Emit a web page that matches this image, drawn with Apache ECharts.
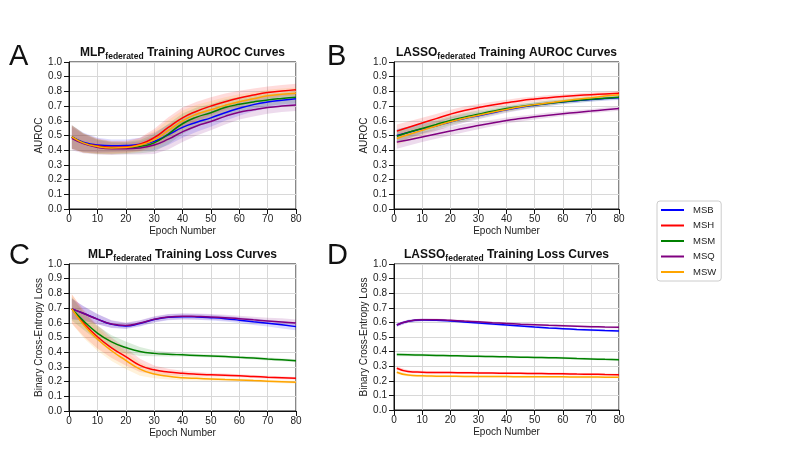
<!DOCTYPE html>
<html>
<head>
<meta charset="utf-8">
<script src="https://cdn.jsdelivr.net/npm/echarts@6/dist/echarts.min.js"></script>
<style>html,body{margin:0;padding:0;background:#fff}#c{width:800px;height:450px}</style>
</head>
<body>
<div id="c"></div>
<script>
// ---- Data ----
const EPOCHS = [1,5,10,15,20,25,30,35,40,45,50,55,60,65,70,75,80];
const NAMES = ['MSB','MSH','MSM','MSQ','MSW'];
const COLORS = ['#0000ff','#ff0000','#008000','#800080','#ffa500'];
const X_TICKS = [0,10,20,30,40,50,60,70,80];
const Y_TICKS = [0,0.1,0.2,0.3,0.4,0.5,0.6,0.7,0.8,0.9,1.0];

// Panel A: MLP federated training AUROC
const A_MSB = [0.49,0.455,0.435,0.43,0.432,0.44,0.46,0.505,0.555,0.59,0.62,0.655,0.685,0.71,0.728,0.74,0.75];
const A_MSH = [0.49,0.45,0.43,0.42,0.422,0.44,0.485,0.555,0.62,0.665,0.70,0.73,0.755,0.775,0.792,0.803,0.812];
const A_MSM = [0.49,0.45,0.425,0.415,0.415,0.425,0.45,0.51,0.58,0.625,0.655,0.69,0.712,0.728,0.742,0.752,0.76];
const A_MSQ = [0.48,0.445,0.42,0.41,0.41,0.415,0.435,0.475,0.525,0.565,0.595,0.63,0.658,0.675,0.69,0.70,0.707];
const A_MSW = [0.49,0.45,0.425,0.415,0.418,0.435,0.47,0.535,0.60,0.645,0.675,0.705,0.73,0.75,0.77,0.78,0.787];
const A_SD  = [0.08,0.065,0.05,0.042,0.04,0.045,0.06,0.07,0.07,0.065,0.06,0.055,0.05,0.045,0.042,0.04,0.04];

// Panel B: LASSO federated training AUROC
const B_MSB = [0.50,0.52,0.545,0.565,0.592,0.615,0.635,0.655,0.675,0.692,0.706,0.718,0.728,0.737,0.745,0.751,0.757];
const B_MSH = [0.53,0.555,0.585,0.615,0.645,0.67,0.69,0.708,0.723,0.737,0.748,0.757,0.765,0.772,0.778,0.783,0.787];
const B_MSM = [0.495,0.52,0.548,0.575,0.602,0.625,0.645,0.665,0.683,0.697,0.709,0.72,0.73,0.739,0.747,0.754,0.76];
const B_MSQ = [0.455,0.47,0.49,0.51,0.53,0.55,0.568,0.585,0.602,0.615,0.627,0.638,0.648,0.657,0.666,0.675,0.683];
const B_MSW = [0.48,0.505,0.535,0.565,0.593,0.617,0.638,0.658,0.677,0.695,0.71,0.722,0.735,0.746,0.757,0.768,0.778];
const B_SD  = [0.045,0.04,0.035,0.032,0.03,0.028,0.025,0.022,0.02,0.02,0.018,0.018,0.016,0.016,0.015,0.015,0.015];

// Panel C: MLP federated training loss
const C_MSB = [0.695,0.665,0.625,0.59,0.578,0.595,0.622,0.638,0.642,0.64,0.635,0.628,0.618,0.607,0.597,0.586,0.574];
const C_MSH = [0.695,0.60,0.505,0.43,0.37,0.31,0.28,0.265,0.256,0.25,0.246,0.243,0.24,0.235,0.23,0.226,0.222];
const C_MSM = [0.695,0.615,0.53,0.47,0.432,0.405,0.392,0.386,0.382,0.378,0.374,0.37,0.365,0.36,0.354,0.348,0.342];
const C_MSQ = [0.695,0.665,0.625,0.592,0.582,0.598,0.624,0.64,0.645,0.643,0.64,0.635,0.628,0.62,0.613,0.606,0.598];
const C_MSW = [0.695,0.59,0.49,0.41,0.345,0.285,0.252,0.236,0.227,0.222,0.218,0.214,0.211,0.207,0.203,0.199,0.195];
const C_SD_BQ = [0.07,0.05,0.035,0.025,0.02,0.02,0.02,0.02,0.02,0.02,0.02,0.02,0.02,0.022,0.022,0.025,0.025];
const C_SD_M  = [0.08,0.06,0.05,0.045,0.04,0.03,0.02,0.015,0.012,0.01,0.01,0.01,0.01,0.01,0.01,0.01,0.01];
const C_SD_HW = [0.10,0.09,0.08,0.07,0.06,0.045,0.03,0.022,0.018,0.015,0.012,0.012,0.01,0.01,0.01,0.01,0.01];

// Panel D: LASSO federated training loss
const D_MSB = [0.582,0.608,0.617,0.615,0.61,0.603,0.596,0.589,0.582,0.575,0.568,0.562,0.557,0.552,0.548,0.544,0.541];
const D_MSH = [0.286,0.264,0.259,0.257,0.256,0.255,0.254,0.253,0.252,0.251,0.25,0.249,0.248,0.246,0.245,0.243,0.241];
const D_MSM = [0.38,0.378,0.376,0.374,0.372,0.37,0.368,0.366,0.364,0.362,0.36,0.358,0.356,0.353,0.35,0.347,0.345];
const D_MSQ = [0.582,0.608,0.618,0.618,0.614,0.609,0.604,0.598,0.593,0.588,0.584,0.58,0.577,0.574,0.571,0.568,0.566];
const D_MSW = [0.259,0.239,0.234,0.232,0.231,0.23,0.23,0.229,0.229,0.228,0.228,0.227,0.227,0.226,0.226,0.225,0.225];
const D_SD  = [0.012,0.01,0.009,0.009,0.008,0.008,0.008,0.008,0.008,0.008,0.008,0.008,0.008,0.008,0.008,0.008,0.008];

const PANELS = [
  {means:[A_MSB,A_MSH,A_MSM,A_MSQ,A_MSW], sds:[A_SD,A_SD,A_SD,A_SD,A_SD]},
  {means:[B_MSB,B_MSH,B_MSM,B_MSQ,B_MSW], sds:[B_SD,B_SD,B_SD,B_SD,B_SD]},
  {means:[C_MSB,C_MSH,C_MSM,C_MSQ,C_MSW], sds:[C_SD_BQ,C_SD_HW,C_SD_M,C_SD_BQ,C_SD_HW]},
  {means:[D_MSB,D_MSH,D_MSM,D_MSQ,D_MSW], sds:[D_SD,D_SD,D_SD,D_SD,D_SD]}
];
const TITLES = [
  ['MLP','Training AUROC Curves'],
  ['LASSO','Training AUROC Curves'],
  ['MLP','Training Loss Curves'],
  ['LASSO','Training Loss Curves']
];
const Y_NAMES = ['AUROC','AUROC','Binary Cross-Entropy Loss','Binary Cross-Entropy Loss'];
const LETTERS = ['A','B','C','D'];

// ---- Layout ----
const FONT = '"Liberation Sans", Arial, sans-serif';
const TXT = '#222';
const GRIDS = [
  {left:69, top:62, width:227, height:147},
  {left:394, top:62, width:225, height:147},
  {left:69, top:264, width:227, height:147},
  {left:394, top:264, width:225, height:146}
];
const LETTER_POS = [[9,57],[327,57],[9,256],[327,256]];

function hexA(hex, a){
  const n = parseInt(hex.slice(1),16);
  return 'rgba(' + ((n>>16)&255) + ',' + ((n>>8)&255) + ',' + (n&255) + ',' + a + ')';
}

const xAxes = [], yAxes = [], series = [], titles = [], graphics = [];
GRIDS.forEach((g, gi) => {
  xAxes.push({
    type:'value', gridIndex:gi, min:0, max:80, interval:10,
    name:'Epoch Number', nameLocation:'middle', nameGap:17,
    nameTextStyle:{fontFamily:FONT, fontSize:10, color:TXT},
    axisLine:{show:true, lineStyle:{color:'#111', width:1}},
    axisTick:{show:true, length:5, lineStyle:{color:'#111'}},
    axisLabel:{fontFamily:FONT, fontSize:10, color:TXT, margin:5},
    splitLine:{show:true, lineStyle:{color:'#d8d8d8', width:1}}
  });
  yAxes.push({
    type:'value', gridIndex:gi, min:0, max:1, interval:0.1,
    name:Y_NAMES[gi], nameLocation:'middle', nameGap:21,
    nameTextStyle:{fontFamily:FONT, fontSize:10, color:TXT},
    axisLine:{show:true, lineStyle:{color:'#111', width:1}},
    axisTick:{show:true, length:5, lineStyle:{color:'#111'}},
    axisLabel:{fontFamily:FONT, fontSize:10, color:TXT, margin:7, formatter:v => v.toFixed(1)},
    splitLine:{show:true, lineStyle:{color:'#d8d8d8', width:1}}
  });
  const p = PANELS[gi];
  // bands
  NAMES.forEach((nm, si) => {
    const mean = p.means[si], sd = p.sds[si];
    const pts = EPOCHS.map((x,i) => [x, mean[i]-sd[i], mean[i]+sd[i]]);
    series.push({
      type:'custom', name:nm+' band', xAxisIndex:gi, yAxisIndex:gi, silent:true, z:1,
      data: pts,
      renderItem:(params, api) => {
        if (params.dataIndex !== 0) return null;
        const up = pts.map(d => api.coord([d[0], d[2]]));
        const lo = pts.map(d => api.coord([d[0], d[1]])).reverse();
        return {type:'polygon', shape:{points: up.concat(lo)}, style:{fill: hexA(COLORS[si], 0.14), stroke:null}};
      }
    });
  });
  // mean lines
  NAMES.forEach((nm, si) => {
    const mean = p.means[si];
    series.push({
      type:'line', name:nm, xAxisIndex:gi, yAxisIndex:gi, z:3,
      smooth:0.5, showSymbol:false, symbol:'none',
      lineStyle:{color:COLORS[si], width:1.5}, itemStyle:{color:COLORS[si]},
      data: EPOCHS.map((x,i) => [x, mean[i]])
    });
  });
  titles.push({
    text:'{b|' + TITLES[gi][0] + '}{s|federated}{b| ' + TITLES[gi][1] + '}',
    left: g.left + g.width/2, top: gi >= 2 ? 247 : 45, textAlign:'center', padding:0,
    textStyle:{rich:{
      b:{fontFamily:FONT, fontSize:12, fontWeight:'bold', color:'#111', lineHeight:16, verticalAlign:'middle'},
      s:{fontFamily:FONT, fontSize:8.5, color:'#111', lineHeight:16, verticalAlign:'bottom'}
    }}
  });
  graphics.push({
    type:'text', left:LETTER_POS[gi][0], top:LETTER_POS[gi][1]-15,
    style:{text:LETTERS[gi], fontFamily:FONT, fontSize:29, fill:'#111'}
  });
});

const chart = echarts.init(document.getElementById('c'), null, {renderer:'canvas'});
chart.setOption({
  animation:false,
  backgroundColor:'#fff',
  title: titles,
  grid: GRIDS.map(g => Object.assign({show:true, borderColor:'#111', borderWidth:1, backgroundColor:'transparent'}, g)),
  xAxis: xAxes,
  yAxis: yAxes,
  legend:{
    data: NAMES, orient:'vertical', left:657, top:201,
    icon:'rect', itemWidth:23, itemHeight:2, itemGap:1.5,
    padding:[2,5,2,4], borderColor:'#cccccc', borderWidth:1, borderRadius:3,
    textStyle:{fontFamily:FONT, fontSize:9.5, color:TXT, lineHeight:14, padding:[0,0,0,4]}
  },
  graphic: graphics,
  series: series
});
</script>
</body>
</html>
